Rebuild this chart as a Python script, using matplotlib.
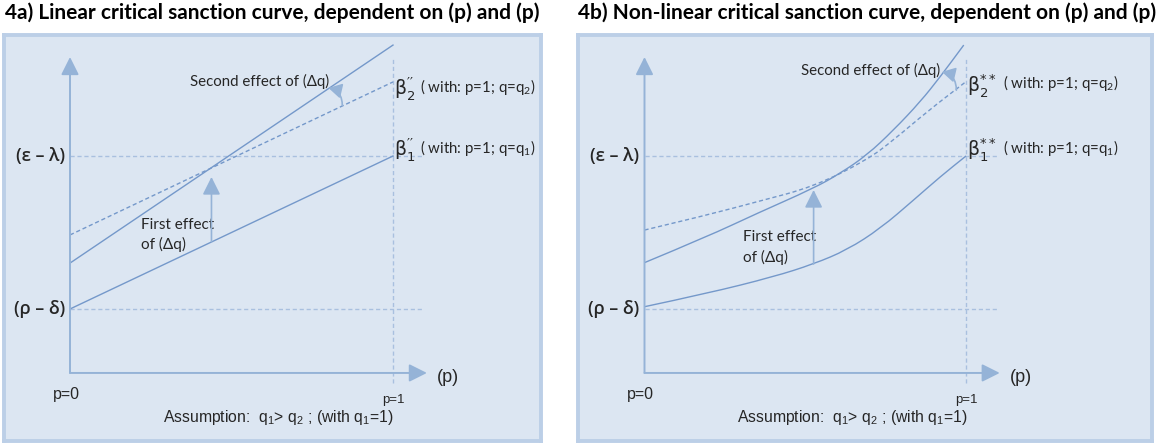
import matplotlib
matplotlib.use('Agg')
import matplotlib.pyplot as plt
from matplotlib.path import Path
from matplotlib.patches import PathPatch

plt.rcParams['mathtext.default'] = 'regular'

# ---- data ----
# levels on the vertical axis: (rho - delta) = 0, (eps - lambda) = 1
level_labels = ['(ρ – δ)', '(ε – λ)']
level_values = [0.0, 1.0]

# 4a) linear curves (p = 0 .. 1)
lin_p = [0.0, 1.0]
lin_beta1 = [0.0, 1.0]        # solid, q = q1
lin_beta2 = [0.484, 1.484]    # dashed, q = q2
lin_shift = [0.30, 1.725]     # solid, after first + second effect

# 4b) non-linear curves
nl_p1 = [0.0, 0.195, 0.402, 0.526, 0.63, 0.734, 0.837, 0.92, 1.0]
nl_beta1 = [0.015, 0.102, 0.211, 0.294, 0.386, 0.527, 0.712, 0.865, 1.0]
nl_p2 = [0.0, 0.195, 0.35, 0.526, 0.692, 0.775, 0.879, 1.0]
nl_beta2 = [0.516, 0.614, 0.701, 0.799, 0.974, 1.105, 1.29, 1.486]
nl_p3 = [0.0, 0.195, 0.35, 0.526, 0.609, 0.692, 0.775, 0.858, 0.92, 0.993]
nl_shift = [0.303, 0.473, 0.625, 0.789, 0.887, 1.006, 1.17, 1.355, 1.518, 1.725]

titles = ['4a) Linear critical sanction curve, dependent on (p) and (p)',
          '4b) Non-linear critical sanction curve, dependent on (p) and (p)']
beta_marks = [r'\prime\prime', '**']

W, H = 1157, 443
C_FACE = '#dce6f2'
C_EDGE = '#bccfe7'
C_LINE = '#7498ca'
C_AXIS = '#95b3d7'
C_GUIDE = '#a9c0df'
C_TEXT = '#262626'
CALIBRI = ['Lato', 'Noto Sans', 'DejaVu Sans']
ARIAL = ['Liberation Sans', 'DejaVu Sans']

fig = plt.figure(figsize=(W / 100, H / 100), dpi=100)
fig.patch.set_facecolor('white')


def make_panel(box, origin, ux, uy):
    x0, y0, x1, y1 = box
    ax = fig.add_axes([x0 / W, 1 - y1 / H, (x1 - x0) / W, (y1 - y0) / H])
    ox, oy = origin
    ax.set_xlim((x0 - ox) / ux, (x1 - ox) / ux)
    ax.set_ylim((oy - y1) / uy, (oy - y0) / uy)
    ax.set_facecolor(C_FACE)
    ax.set_xticks([])
    ax.set_yticks([])
    for s in ax.spines.values():
        s.set_color(C_EDGE)
        s.set_linewidth(2.8)
    return ax


def smooth_curve(ax, xs, ys, **kw):
    # quadratic bezier through the midpoints of the read points
    pts = list(zip(xs, ys))
    verts = [pts[0]]
    codes = [Path.MOVETO]
    for i in range(1, len(pts) - 1):
        mid = ((pts[i][0] + pts[i + 1][0]) / 2, (pts[i][1] + pts[i + 1][1]) / 2)
        verts += [pts[i], mid]
        codes += [Path.CURVE3, Path.CURVE3]
    verts.append(pts[-1])
    codes.append(Path.LINETO)
    ax.add_patch(PathPatch(Path(verts, codes), fill=False, **kw))


def draw_frame(ax, mark, lab_dx, beta_y, sec_xy, first_xy, arc):
    y_bot, y_top, x_end = -0.418, 1.647, 1.105
    # guides
    for v in level_values:
        ax.plot([0, 1.095], [v, v], color=C_GUIDE, lw=1.0, ls=(0, (3, 2)), zorder=1)
    ax.plot([1, 1], [-0.484, y_top], color=C_GUIDE, lw=1.0, ls=(0, (3, 2)), zorder=1)
    # axes with arrows
    arr = dict(arrowstyle='-|>,head_length=0.9,head_width=0.45', color=C_AXIS,
               lw=1.4, shrinkA=0, shrinkB=0, mutation_scale=12)
    ax.annotate('', xy=(0, y_top), xytext=(0, y_bot), arrowprops=arr)
    ax.annotate('', xy=(x_end, y_bot), xytext=(0, y_bot), arrowprops=arr)
    # level labels
    for lab, v in zip(level_labels, level_values):
        ax.text(-0.016, v, lab, ha='right', va='center', fontsize=13,
                weight='semibold', family=['Open Sans', 'Noto Sans', 'DejaVu Sans'],
                color=C_TEXT)
    ax.text(-0.012, -0.562, 'p=0', ha='center', va='center', fontsize=11.5,
            family=ARIAL, color=C_TEXT)
    ax.text(1.0, -0.595, 'p=1', ha='center', va='center', fontsize=9.5,
            family=ARIAL, color=C_TEXT)
    ax.text(1.136, -0.45, '(p)', ha='left', va='center', fontsize=13,
            family=ARIAL, color=C_TEXT)
    ax.text(0.287, -0.71, 'Assumption:  q$_1$> q$_2$ ; (with q$_1$=1)',
            ha='left', va='center', fontsize=11.3, family=ARIAL, color=C_TEXT)
    # beta labels
    for i, yy in zip([2, 1], beta_y):
        ax.text(1.004, yy, r'$\beta_%d^{%s}$' % (i, mark), ha='left', va='center',
                fontsize=13.5, family='DejaVu Sans', color=C_TEXT)
        ax.text(lab_dx, yy + 0.01, '( with: p=1; q=q$_%d$)' % i, ha='left',
                va='center', fontsize=10.8, family=CALIBRI, color=C_TEXT)
    ax.text(sec_xy[0], sec_xy[1], 'Second effect of (Δq)', ha='left', va='center',
            fontsize=10.8, family=CALIBRI, color=C_TEXT)
    ax.text(first_xy[0], first_xy[1], 'First effect', ha='left', va='center',
            fontsize=11, family=CALIBRI, color=C_TEXT)
    ax.text(first_xy[0], first_xy[1] - 0.13, 'of (Δq)', ha='left', va='center',
            fontsize=11, family=CALIBRI, color=C_TEXT)
    # second effect: curved arrow from dashed to shifted line
    ax.annotate('', xy=arc[1], xytext=arc[0],
                arrowprops=dict(arrowstyle='-|>,head_length=0.8,head_width=0.45',
                                color=C_AXIS, lw=1.2, shrinkA=0, shrinkB=0,
                                mutation_scale=10,
                                connectionstyle='arc3,rad=0.4'))


def first_arrow(ax, x, y0, y1):
    ax.annotate('', xy=(x, y1), xytext=(x, y0),
                arrowprops=dict(arrowstyle='-|>,head_length=0.9,head_width=0.45',
                                color=C_AXIS, lw=1.2, shrinkA=0, shrinkB=0,
                                mutation_scale=12))


# ---- 4a ----
axa = make_panel((4, 35, 541, 441), (70, 309), 323, 153)
draw_frame(axa, beta_marks[0], 1.085, [1.44, 1.04], (0.372, 1.49), (0.221, 0.549),
           [(0.843, 1.33), (0.800, 1.445)])
axa.plot(lin_p, lin_beta1, color=C_LINE, lw=1.0)
axa.plot(lin_p, lin_beta2, color=C_LINE, lw=1.0, ls=(0, (3, 2)))
axa.plot(lin_p, lin_shift, color=C_LINE, lw=1.0)
first_arrow(axa, 0.438, 0.44, 0.863)

# ---- 4b ----
axb = make_panel((578, 35, 1152, 441), (644.5, 309), 321.5, 153)
draw_frame(axb, beta_marks[1], 1.115, [1.464, 1.04], (0.487, 1.562), (0.305, 0.47),
           [(0.97, 1.43), (0.925, 1.55)])
smooth_curve(axb, nl_p1, nl_beta1, edgecolor=C_LINE, lw=1.0)
smooth_curve(axb, nl_p2, nl_beta2, edgecolor=C_LINE, lw=1.0, ls=(0, (3, 2)))
smooth_curve(axb, nl_p3, nl_shift, edgecolor=C_LINE, lw=1.0)
first_arrow(axb, 0.526, 0.294, 0.778)

# titles
fig.text(5 / W, 1 - 13 / H, titles[0], ha='left', va='center', fontsize=15,
         weight='bold', family=CALIBRI, color='black')
fig.text(578 / W, 1 - 13 / H, titles[1], ha='left', va='center', fontsize=15,
         weight='bold', family=CALIBRI, color='black')

fig.savefig('out.png', dpi=100, facecolor='white')
